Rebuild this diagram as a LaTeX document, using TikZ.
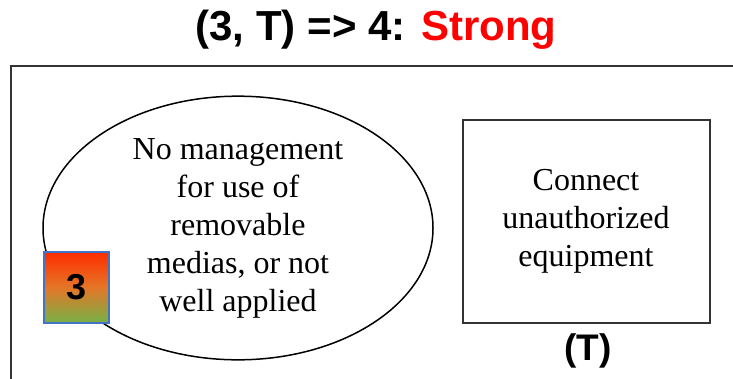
\documentclass[tikz,border=0pt]{standalone}
\usepackage{fontspec}
\setmainfont{Liberation Serif}
\setsansfont{Liberation Sans}
\usetikzlibrary{shapes.geometric}
\definecolor{strongred}{RGB}{255,0,0}
\definecolor{levelred}{RGB}{255,45,0}
\definecolor{levelorange}{RGB}{228,118,40}
\definecolor{levelgreen}{RGB}{118,178,70}
\definecolor{levelblue}{RGB}{68,114,196}
\tikzset{
	boxtext/.style={align=center, font=\rmfamily\fontsize{32}{38}\selectfont},
	boldlabel/.style={font=\sffamily\bfseries\fontsize{#1}{#1}\selectfont, anchor=base}
}

\begin{document}
\begin{tikzpicture}[x=1pt,y=-1pt]
		\useasboundingbox (0,0) rectangle (733,378);
		\node[boldlabel=42] (title) at (376,40) {(3, T) => 4: \textcolor{strongred}{Strong}};
		\draw[line width=2pt, black!80] (11,380) -- (11,66) -- (735,66);
		\node[ellipse, draw, line width=1.5pt, minimum width=390pt, minimum height=214pt, boxtext] (cause) at (238,228)
			{No management\\for use of\\removable\\medias, or not\\well applied};
		\node[draw=black!80, line width=2pt, minimum width=247pt, minimum height=203pt, inner sep=0pt, boxtext] (threat) at (586,221.5)
			{Connect\\unauthorized\\equipment};
		\node[boldlabel=37] (tlabel) at (588,360) {(T)};
		\node[draw=levelblue, line width=1.3pt, top color=levelred, bottom color=levelgreen, middle color=levelorange,
			minimum width=65pt, minimum height=71pt, inner sep=0pt, font=\sffamily\bfseries\fontsize{36}{36}\selectfont] (level) at (76.5,287.5) {3};
	\end{tikzpicture}
\end{document}
